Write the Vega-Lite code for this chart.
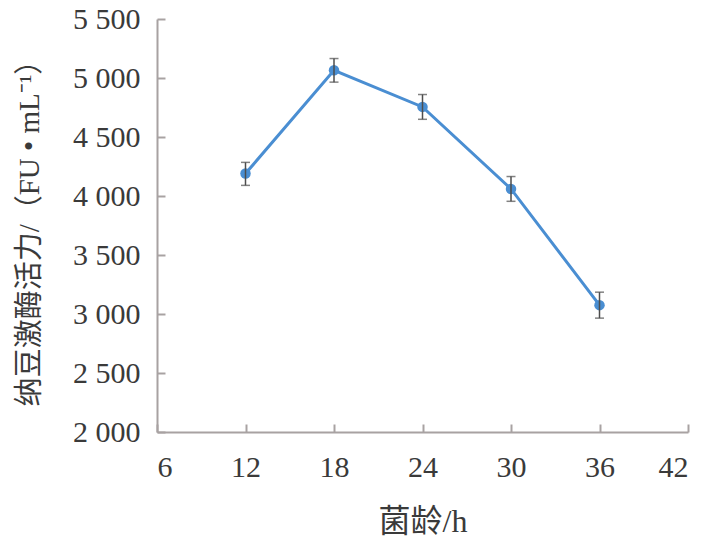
{
  "$schema": "https://vega.github.io/schema/vega-lite/v6.json",
  "autosize": "none",
  "width": 531,
  "height": 413,
  "padding": {"left": 157, "top": 19, "right": 20, "bottom": 111},
  "background": "white",
  "config": {
    "view": {"stroke": null},
    "font": "Liberation Serif",
    "axis": {
      "grid": false,
      "domainColor": "#a8a2a2",
      "domainWidth": 2,
      "tickColor": "#a8a2a2",
      "tickWidth": 2,
      "tickSize": -8,
      "labelFont": "Liberation Serif",
      "labelFontSize": 30,
      "labelColor": "#3a3a3a",
      "titleFont": "Liberation Serif, Noto Sans CJK SC",
      "titleFontSize": 29,
      "titleFontWeight": "normal",
      "titleColor": "#3a3a3a"
    }
  },
  "data": {
    "values": [
      {"age": 12, "activity": 4190, "lo": 4090, "hi": 4285},
      {"age": 18, "activity": 5065, "lo": 4965, "hi": 5165},
      {"age": 24, "activity": 4755, "lo": 4650, "hi": 4860},
      {"age": 30, "activity": 4060, "lo": 3955, "hi": 4165},
      {"age": 36, "activity": 3075, "lo": 2965, "hi": 3185}
    ]
  },
  "encoding": {
    "x": {
      "field": "age",
      "type": "quantitative",
      "scale": {"domain": [6, 42], "nice": false, "zero": false},
      "axis": {
        "values": [6, 12, 18, 24, 30, 36, 42],
        "title": "菌龄/h",
        "titleFontSize": 32,
        "labelPadding": 28,
        "titlePadding": 24
      }
    }
  },
  "layer": [
    {
      "mark": {"type": "line", "color": "#4a8ed2", "strokeWidth": 3},
      "encoding": {
        "y": {
          "field": "activity",
          "type": "quantitative",
          "scale": {"domain": [2000, 5500], "nice": false, "zero": false},
          "axis": {
            "values": [2000, 2500, 3000, 3500, 4000, 4500, 5000, 5500],
            "labelExpr": "replace(format(datum.value, ','), ',', ' ')",
            "title": "纳豆激酶活力/（FU • mL⁻¹）",
            "labelPadding": 25,
            "titlePadding": 28
          }
        }
      }
    },
    {
      "mark": {"type": "point", "filled": true, "color": "#4a8ed2", "size": 110, "opacity": 1},
      "encoding": {"y": {"field": "activity", "type": "quantitative"}}
    },
    {
      "mark": {"type": "rule", "color": "#4d4d4d", "strokeWidth": 1.5},
      "encoding": {"y": {"field": "lo", "type": "quantitative"}, "y2": {"field": "hi"}}
    },
    {
      "mark": {"type": "tick", "orient": "horizontal", "color": "#4d4d4d", "size": 9, "thickness": 1.5},
      "encoding": {"y": {"field": "lo", "type": "quantitative"}}
    },
    {
      "mark": {"type": "tick", "orient": "horizontal", "color": "#4d4d4d", "size": 9, "thickness": 1.5},
      "encoding": {"y": {"field": "hi", "type": "quantitative"}}
    }
  ]
}
